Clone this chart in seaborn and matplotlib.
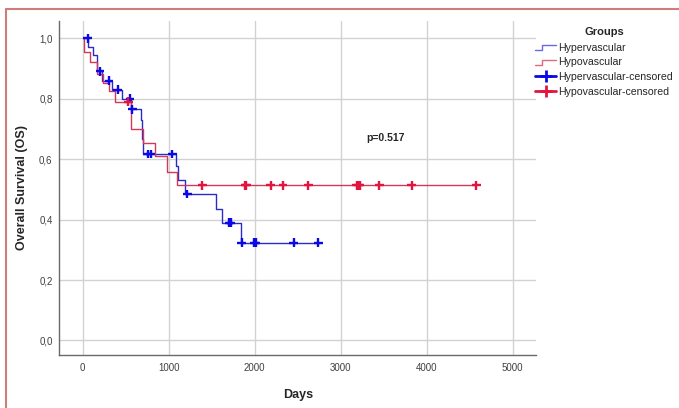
import numpy as np
import pandas as pd
import seaborn as sns
import matplotlib.pyplot as plt
from matplotlib.lines import Line2D
from matplotlib.legend_handler import HandlerBase

# Kaplan-Meier step curves (days, survival)
hyper_days = [0, 65, 124, 163, 228, 344, 453, 562, 672, 688, 705, 1080, 1112, 1190, 1551, 1616, 1837, 2760]
hyper_surv = [1.0, 0.97, 0.945, 0.89, 0.86, 0.83, 0.80, 0.765, 0.73, 0.665, 0.617, 0.578, 0.53, 0.485, 0.436, 0.39, 0.324, 0.324]
hypo_days = [0, 15, 85, 165, 240, 300, 376, 560, 705, 841, 980, 1095, 4575]
hypo_surv = [1.0, 0.956, 0.92, 0.883, 0.853, 0.824, 0.79, 0.70, 0.655, 0.61, 0.558, 0.513, 0.513]

# Censored observations
hyper_cens_days = [60, 201, 306, 407, 550, 577, 756, 791, 1040, 1218, 1701, 1724, 1849, 1996, 2015, 2453, 2740]
hyper_cens_surv = [1.0, 0.89, 0.86, 0.83, 0.80, 0.765, 0.617, 0.617, 0.617, 0.485, 0.39, 0.39, 0.324, 0.324, 0.324, 0.324, 0.324]
hypo_cens_days = [530, 1391, 1888, 1900, 2186, 2329, 2624, 3186, 3205, 3225, 3450, 3826, 4575]
hypo_cens_surv = [0.79, 0.513, 0.513, 0.513, 0.513, 0.513, 0.513, 0.513, 0.513, 0.513, 0.513, 0.513, 0.513]

x_ticks = [0, 1000, 2000, 3000, 4000, 5000]
y_ticks = [0.0, 0.2, 0.4, 0.6, 0.8, 1.0]
p_label = 'p=0.517'

groups = ['Hypervascular', 'Hypovascular']
line_colors = {'Hypervascular': '#2b2bc8', 'Hypovascular': '#d2385a'}
cens_colors = {'Hypervascular': '#0a0ae6', 'Hypovascular': '#e3143f'}
legend_line_colors = ['#6a6ae0', '#e06a82']

curves = pd.concat([
    pd.DataFrame({'days': hyper_days, 'surv': hyper_surv, 'group': 'Hypervascular'}),
    pd.DataFrame({'days': hypo_days, 'surv': hypo_surv, 'group': 'Hypovascular'}),
])
cens = pd.concat([
    pd.DataFrame({'days': hyper_cens_days, 'surv': hyper_cens_surv, 'group': 'Hypervascular'}),
    pd.DataFrame({'days': hypo_cens_days, 'surv': hypo_cens_surv, 'group': 'Hypovascular'}),
])

sns.set_theme(style='white')
plt.rcParams['font.family'] = ['Liberation Sans', 'DejaVu Sans']

fig = plt.figure(figsize=(6.79, 4.08), dpi=100)
ax = fig.add_axes([59.5 / 679, 53 / 408, 476.5 / 679, 334 / 408])

sns.lineplot(data=curves, x='days', y='surv', hue='group', hue_order=groups,
             palette=line_colors, drawstyle='steps-post', estimator=None,
             sort=False, legend=False, linewidth=1.0, ax=ax, zorder=3)
sns.scatterplot(data=cens, x='days', y='surv', hue='group', hue_order=groups,
                palette=cens_colors, marker='+', s=40, linewidth=1.7,
                legend=False, ax=ax, zorder=4)

ax.set_xlim(-270, 5270)
ax.set_ylim(-0.048, 1.057)
ax.set_xticks(x_ticks)
ax.set_xticklabels([str(t) for t in x_ticks])
ax.set_yticks(y_ticks)
ax.set_yticklabels([f'{t:.1f}'.replace('.', ',') for t in y_ticks])
ax.tick_params(length=0, labelsize=7, labelcolor='#404040')
ax.tick_params(axis='x', pad=6)
ax.tick_params(axis='y', pad=5)
ax.grid(True, color='#d2d2d2', linewidth=1.0)
ax.set_axisbelow(True)
for side in ['top', 'right']:
    ax.spines[side].set_visible(False)
for side in ['left', 'bottom']:
    ax.spines[side].set_color('#6a6a6a')
    ax.spines[side].set_linewidth(1.0)

ax.set_xlabel('Days', fontsize=9, fontweight='bold', labelpad=11)
ax.set_ylabel('Overall Survival (OS)', fontsize=9, fontweight='bold', labelpad=8)

ax.text(3515, 0.669, p_label, fontsize=7.5, fontweight='bold', ha='center', va='center')


class StepHandler(HandlerBase):
    def create_artists(self, legend, orig_handle, xdescent, ydescent,
                       width, height, fontsize, trans):
        x0 = -xdescent
        xm = x0 + 0.35 * width
        y_lo = -ydescent + 0.1 * height
        y_hi = -ydescent + 0.75 * height
        line = Line2D([x0, xm, xm, x0 + width], [y_lo, y_lo, y_hi, y_hi],
                      color=orig_handle.get_color(), lw=1.0)
        line.set_transform(trans)
        return [line]


step_handles = [Line2D([], [], color=c) for c in legend_line_colors]
cens_handles = [Line2D([], [], color=cens_colors[g], lw=2.0, marker='+',
                       markersize=8, markeredgewidth=2.0) for g in groups]
leg = fig.legend(step_handles + cens_handles,
                 ['Hypervascular', 'Hypovascular',
                  'Hypervascular-censored', 'Hypovascular-censored'],
                 handler_map={h: StepHandler() for h in step_handles},
                 loc='upper left', bbox_to_anchor=(535 / 679, 1 - 27 / 408),
                 frameon=False, title='Groups', fontsize=7.6,
                 title_fontproperties={'weight': 'bold', 'size': 8},
                 handlelength=2.0, handletextpad=0.2, labelspacing=0.45,
                 borderpad=0, borderaxespad=0)
leg._legend_box.sep = 4

# thin reddish frame of the original screenshot (left and top edges)
border = '#cf7c7c'
fig.add_artist(Line2D([5.5 / 679, 5.5 / 679], [0, 1 - 9 / 408],
                      transform=fig.transFigure, color=border, lw=1.5))
fig.add_artist(Line2D([5.5 / 679, 1], [1 - 9 / 408, 1 - 9 / 408],
                      transform=fig.transFigure, color=border, lw=1.5))

fig.savefig('out.png', dpi=100)
